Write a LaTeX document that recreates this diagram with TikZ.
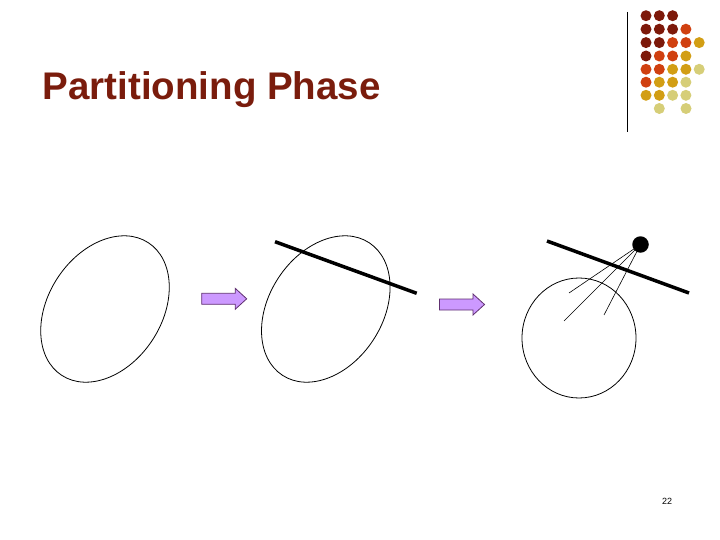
\documentclass[tikz,border=0pt]{standalone}
\usepackage{fontspec}
\setmainfont{Liberation Sans}
\usetikzlibrary{shapes.geometric}
\definecolor{titlered}{RGB}{122,28,12}
\definecolor{dotA}{RGB}{125,25,10}
\definecolor{dotB}{RGB}{208,64,16}
\definecolor{dotC}{RGB}{210,158,20}
\definecolor{dotD}{RGB}{214,206,120}
\definecolor{arrfill}{RGB}{204,153,255}
\definecolor{arrdraw}{RGB}{96,48,112}
\tikzset{
  blob/.style={ellipse, draw=black, line width=0.8pt, inner sep=0pt, outer sep=0pt},
  cutline/.style={line width=3.5pt, black},
  ray/.style={line width=0.6pt, black},
  gdot/.style={circle, inner sep=0pt, minimum size=11pt},
  blockarr/.style={fill=arrfill, draw=arrdraw, line width=0.8pt, line join=miter},
  pics/barrow/.style={code={
    \draw[blockarr] (0,-5.5) -- (33.5,-5.5) -- (33.5,-10.5) -- (45,0) -- (33.5,10.5) -- (33.5,5.5) -- (0,5.5) -- cycle;
  }}
}
\begin{document}
\begin{tikzpicture}[x=1pt,y=-1pt]
\useasboundingbox (0,0) rectangle (720,540);
% title
\node[anchor=base west, inner sep=0pt, text=titlered,
      font=\fontsize{38.5}{44}\selectfont\bfseries] (title) at (42.5,99.3)
      {Partitioning Phase};
% decoration: vertical rule and dot grid
\coordinate (rtop) at (627,12);
\coordinate (rbot) at (627,132);
\draw[line width=1pt] (rtop) -- (rbot);
\foreach \c [count=\i] in {dotA,dotA,dotA}{\node[gdot,fill=\c] (d1\i) at ({632.7+13.3*\i},15.7) {};}
\foreach \c [count=\i] in {dotA,dotA,dotA,dotB}{\node[gdot,fill=\c] (d2\i) at ({632.7+13.3*\i},29.2) {};}
\foreach \c [count=\i] in {dotA,dotA,dotB,dotB,dotC}{\node[gdot,fill=\c] (d3\i) at ({632.7+13.3*\i},42.6) {};}
\foreach \c [count=\i] in {dotA,dotB,dotB,dotC}{\node[gdot,fill=\c] (d4\i) at ({632.7+13.3*\i},56) {};}
\foreach \c [count=\i] in {dotB,dotB,dotC,dotC,dotD}{\node[gdot,fill=\c] (d5\i) at ({632.7+13.3*\i},69.3) {};}
\foreach \c [count=\i] in {dotB,dotC,dotC,dotD}{\node[gdot,fill=\c] (d6\i) at ({632.7+13.3*\i},82.2) {};}
\foreach \c [count=\i] in {dotC,dotC,dotD,dotD}{\node[gdot,fill=\c] (d7\i) at ({632.7+13.3*\i},95.3) {};}
\node[gdot,fill=dotD] (d82) at (659.3,108.5) {};
\node[gdot,fill=dotD] (d84) at (686,108.5) {};
% first figure
\node[blob, minimum width=158.4pt, minimum height=113.4pt, rotate=56.8] (e1) at (105,309) {};
\pic at (201.7,298.8) {barrow};
% second figure
\node[blob, minimum width=158.4pt, minimum height=113.4pt, rotate=56.8] (e2) at (325.8,309) {};
\coordinate (l2a) at (275,241.7);
\coordinate (l2b) at (416.7,293.3);
\draw[cutline] (l2a) -- (l2b);
\pic at (439.5,304.5) {barrow};
% third figure
\node[blob, minimum width=114pt, minimum height=120pt] (e3) at (579,338) {};
\coordinate (l3a) at (547,241);
\coordinate (l3b) at (689,293);
\draw[cutline] (l3a) -- (l3b);
\coordinate (dc) at (640.5,244.5);
\coordinate (r1) at (569,293);
\coordinate (r2) at (564,321);
\coordinate (r3) at (604,315);
\draw[ray] (dc) -- (r1);
\draw[ray] (dc) -- (r2);
\draw[ray] (dc) -- (r3);
\node[circle, fill=black, inner sep=0pt, minimum size=16.5pt] (pt) at (dc) {};
% page number
\node[font=\fontsize{9}{10}\selectfont, inner sep=0pt] (pg) at (667,501) {22};
\end{tikzpicture}
\end{document}
